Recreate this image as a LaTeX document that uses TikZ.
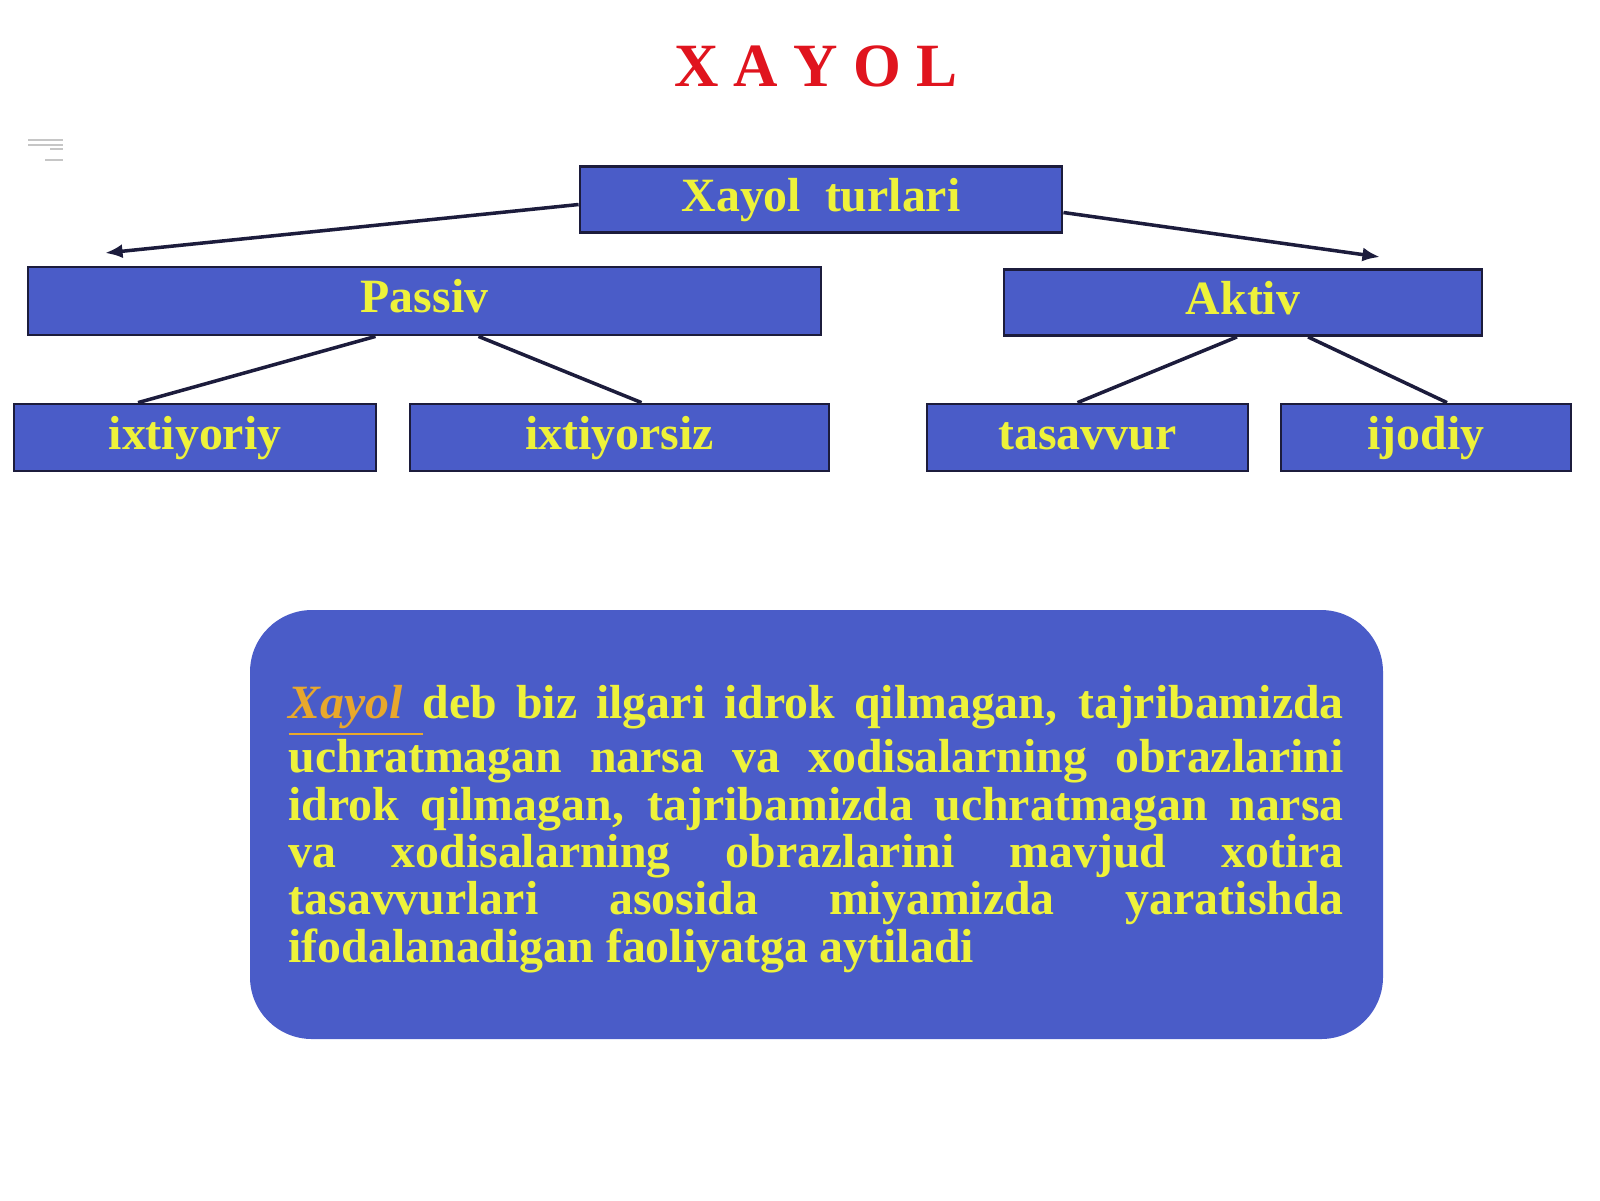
\documentclass[tikz,border=0pt]{standalone}
\usepackage{fontspec}
\setmainfont{Liberation Serif}
\usetikzlibrary{arrows.meta}
\definecolor{myboxcolor}{HTML}{4A5CC8}
\definecolor{mytextcolor}{HTML}{EEF23A}
\definecolor{mytitlecolor}{HTML}{E0141E}
\definecolor{mylinecolor}{HTML}{1C1C3C}
\definecolor{mywordcolor}{HTML}{E8A82C}

\begin{document}
\begin{tikzpicture}%
\tikzset{typebox/.style={draw=mylinecolor, line width=0.8pt, fill=myboxcolor, rectangle, minimum height=0.66cm, inner sep=0pt, text height=6.8pt, text depth=0pt, text=mytextcolor, font=\fontsize{13.6pt}{13.6pt}\selectfont\bfseries}}%
\tikzset{typeline/.style={draw=mylinecolor, line width=1pt}}%
\useasboundingbox[fill=white] (0,0) rectangle (16,-12);%
% title and the small mark at the left
\node[text=mytitlecolor] (title) at (8.16, -0.66) {\fontsize{17.5pt}{17.5pt}\selectfont\bfseries X A Y O L};%
\draw[gray!45, line width=0.7pt] (0.28,-1.40) -- (0.63,-1.40) (0.28,-1.45) -- (0.63,-1.45) (0.50,-1.49) -- (0.63,-1.49) (0.45,-1.60) -- (0.63,-1.60);%
% boxes
\node[typebox, minimum width=4.82cm] (turlari) at (8.21, -1.995) {Xayol\ \ turlari};%
\node[typebox, minimum width=7.93cm, minimum height=0.68cm] (passiv) at (4.245, -3.01) {Passiv};%
\node[typebox, minimum width=4.78cm] (aktiv) at (12.43, -3.025) {Aktiv};%
\node[typebox, minimum width=3.62cm, minimum height=0.67cm] (ixtiyoriy) at (1.95, -4.375) {ixtiyoriy};%
\node[typebox, minimum width=4.19cm, minimum height=0.67cm] (ixtiyorsiz) at (6.195, -4.375) {ixtiyorsiz};%
\node[typebox, minimum width=3.21cm, minimum height=0.67cm] (tasavvur) at (10.875, -4.375) {tasavvur};%
\node[typebox, minimum width=2.90cm, minimum height=0.67cm] (ijodiy) at (14.26, -4.375) {ijodiy};%
% arrows and lines
\coordinate (passivtip) at (1.05, -2.53);%
\coordinate (aktivtip) at (13.80, -2.57);%
\draw[typeline, -{Latex[length=5pt, width=4pt]}] ([yshift=-0.05cm]turlari.west) -- (passivtip);%
\draw[typeline, -{Latex[length=5pt, width=4pt]}] ([yshift=-0.13cm]turlari.east) -- (aktivtip);%
\draw[typeline] ([xshift=-0.49cm]passiv.south) -- ([xshift=-0.57cm]ixtiyoriy.north);%
\draw[typeline] ([xshift=0.54cm]passiv.south) -- ([xshift=0.22cm]ixtiyorsiz.north);%
\draw[typeline] ([xshift=-0.06cm]aktiv.south) -- ([xshift=-0.10cm]tasavvur.north);%
\draw[typeline] ([xshift=0.65cm]aktiv.south) -- ([xshift=0.21cm]ijodiy.north);%
% definition
\node[fill=myboxcolor, rectangle, rounded corners=0.62cm, minimum width=11.33cm, minimum height=4.29cm] (defbox) at (8.165, -8.245) {};%
\node[anchor=north west, inner sep=0pt, text width=10.55cm, align=justify, text=mytextcolor] (deftext) at (2.88, -6.85) {\fontsize{13.6pt}{13.7pt}\selectfont\bfseries\hyphenpenalty=10000\noindent
{\color{mywordcolor}\underline{\textit{Xayol}\ \,}}deb biz ilgari idrok qilmagan, tajribamizda\linebreak
uchratmagan narsa va xodisalarning obrazlarini\linebreak
idrok qilmagan, tajribamizda uchratmagan narsa\linebreak
va xodisalarning obrazlarini mavjud xotira\linebreak
tasavvurlari asosida miyamizda yaratishda\linebreak
ifodalanadigan faoliyatga aytiladi};%
\end{tikzpicture}
\end{document}
